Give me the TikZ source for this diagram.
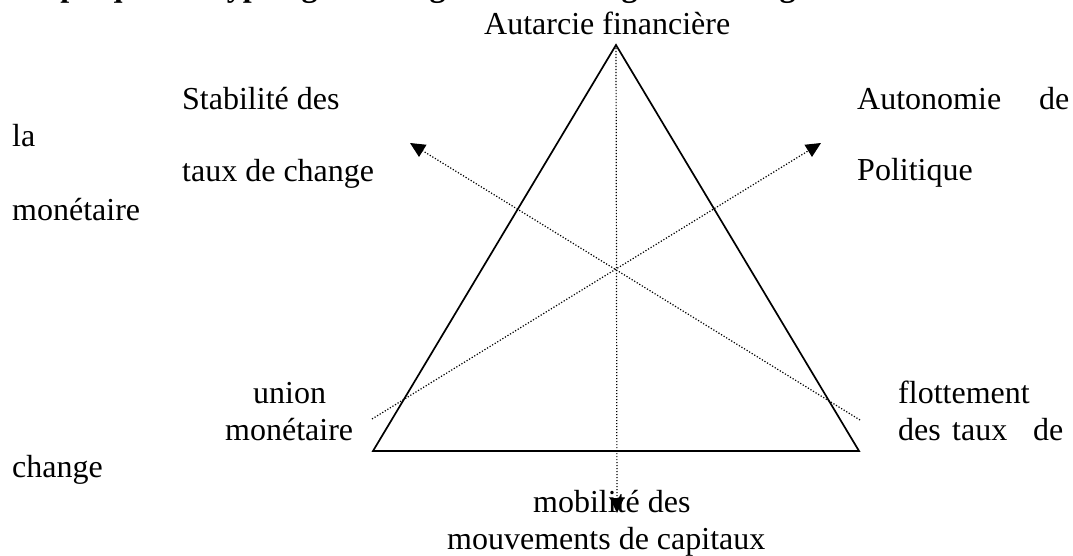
\documentclass[tikz,border=0pt]{standalone}
\usepackage{fontspec}
\setmainfont{Liberation Serif}
\usetikzlibrary{arrows.meta}
\begin{document}
\begin{tikzpicture}[x=1pt,y=-1pt,
  txt/.style={anchor=base west,inner sep=0pt,font=\fontsize{32}{37}\selectfont},
  ttl/.style={anchor=base west,inner sep=0pt,font=\fontsize{32}{37}\selectfont\bfseries},
  side/.style={line width=1.7pt,line join=miter},
  dotline/.style={line width=1.2pt,dash pattern=on 1.2pt off 1.8pt},
  tipend/.style={-{Triangle[length=15pt,width=14pt]}}]
\useasboundingbox (0,0) rectangle (1073,556);
% title (clipped at top as in the reference)
\node[ttl] (title) at (5,-3) {Graphique 1 : Typologie des régimes de change : le triangle de Mundell};
% triangle
\coordinate (A) at (616,45);
\coordinate (L) at (373,451);
\coordinate (R) at (859,451);
\draw[side] (A) -- (L) -- (R) -- cycle;
% arrow end points
\coordinate (ulT) at (410,143);
\coordinate (lrE) at (860,420);
\coordinate (llE) at (372,419);
\coordinate (urT) at (821,143);
\coordinate (bT) at (617,513);
\draw[dotline,tipend] (lrE) -- (ulT);
\draw[dotline,tipend] (llE) -- (urT);
\draw[dotline,tipend] (A) -- (bT);
% labels
\node[txt] (autarcie) at (484,35) {Autarcie financière};
\node[txt] (mob1) at (533,512) {mobilité des};
\node[txt] (mob2) at (447,549) {mouvements de capitaux};
\node[txt] (stab1) at (182,110) {Stabilité des};
\node[txt] (la) at (12,147) {la};
\node[txt] (stab2) at (182,182) {taux de change};
\node[txt] (mon1) at (12,220) {monétaire};
\node[txt] (auto1) at (857,110) {Autonomie};
\node[txt] (auto2) at (1039,110) {de};
\node[txt] (pol) at (857,181) {Politique};
\node[txt] (union1) at (253,403) {union};
\node[txt] (union2) at (225,440) {monétaire};
\node[txt] (chg) at (12,477) {change};
\node[txt] (flot1) at (898,403) {flottement};
\node[txt] (flot2) at (898,440) {des};
\node[txt] (flot3) at (952,440) {taux};
\node[txt] (flot4) at (1033,440) {de};
\end{tikzpicture}
\end{document}
